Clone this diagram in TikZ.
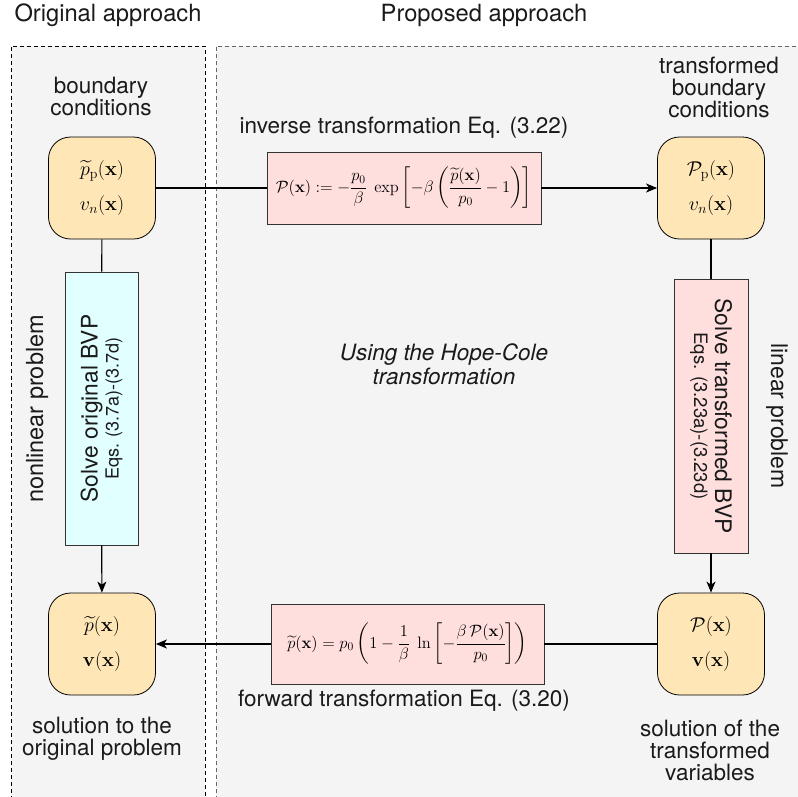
\RequirePackage{fix-cm}
\documentclass[tikz,border=0pt]{standalone}
\usepackage{amsmath}
\usepackage[no-math]{fontspec}
\setmainfont{TeX Gyre Heros}
\usetikzlibrary{arrows.meta}
\definecolor{panelbg}{HTML}{F4F4F4}
\definecolor{nodefill}{HTML}{FEE6B6}
\definecolor{cyanfill}{HTML}{E2FFFF}
\definecolor{pinkfill}{HTML}{FFDEDE}
\definecolor{txt}{HTML}{1A1A1A}
\begin{document}
\begin{tikzpicture}[x=1pt,y=-1pt,
  lbl/.style={font=\fontsize{22.5}{22}\selectfont, align=center, text=txt, inner sep=0pt},
  ttl/.style={lbl, font=\fontsize{23.7}{26}\selectfont},
  varbox/.style={draw=black, line width=0.8pt, fill=nodefill, rounded corners=22pt,
    minimum width=107pt, minimum height=102pt, inner sep=0pt, align=center,
    font=\fontsize{20}{35}\selectfont},
  eqbox/.style={draw=black!80, line width=0.8pt, fill=pinkfill, inner sep=0pt,
    font=\fontsize{16.5}{18}\selectfont},
  solvebox/.style={draw=black!80, line width=0.8pt, inner sep=0pt, align=center,
    font=\fontsize{22.8}{22}\selectfont, text=txt},
  conn/.style={line width=1.2pt, black},
  tip/.style={conn, -{Stealth[length=11pt,width=9pt,inset=3pt]}}
]
\useasboundingbox (0,0) rectangle (798,796);
% panels
\fill[panelbg] (11,46) rectangle (205,800);
\draw[black, line width=0.7pt, dash pattern=on 4pt off 3pt] (11,800) -- (11,46) -- (205,46) -- (205,800);
\fill[panelbg] (216,46) rectangle (800,800);
\draw[black!60, line width=0.7pt, dash pattern=on 4pt off 3pt] (216,800) -- (216,46) -- (800,46);

% titles
\node[ttl] (t1) at (108,15) {Original approach};
\node[ttl] (t2) at (484,15) {Proposed approach};

% variable boxes
\node[varbox] (bc) at (102,188) {$\widetilde{p}_{\mathrm{p}}(\mathbf{x})$\\$v_n(\mathbf{x})$};
\node[varbox] (tbc) at (711,188) {$\mathcal{P}_{\mathrm{p}}(\mathbf{x})$\\$v_n(\mathbf{x})$};
\node[varbox] (sol) at (102,644) {$\widetilde{p}(\mathbf{x})$\\$\mathbf{v}(\mathbf{x})$};
\node[varbox] (tsol) at (711,644) {$\mathcal{P}(\mathbf{x})$\\$\mathbf{v}(\mathbf{x})$};

% transformation boxes
\node[eqbox, minimum width=274pt, minimum height=72pt] (inv) at (404,188)
  {$\displaystyle \mathcal{P}(\mathbf{x}) := -\frac{p_0}{\beta}\;\exp\left[-\beta\left(\frac{\widetilde{p}(\mathbf{x})}{p_0}-1\right)\right]$};
\node[eqbox, minimum width=273pt, minimum height=80pt] (fwd) at (407.5,644)
  {$\displaystyle \widetilde{p}(\mathbf{x}) = p_0\left(1-\frac{1}{\beta}\;\ln\left[-\frac{\beta\,\mathcal{P}(\mathbf{x})}{p_0}\right]\right)$};

% solve boxes
\node[solvebox, fill=cyanfill, rotate=90, minimum width=273pt, minimum height=73pt] (solveo) at (101.5,408.5)
  {Solve original BVP\\[-1pt]{\fontsize{18}{18}\selectfont Eqs. (3.7a)-(3.7d)}};
\node[solvebox, fill=pinkfill, rotate=-90, minimum width=274pt, minimum height=74pt] (solvet) at (711,416)
  {Solve transformed BVP\\[-1pt]{\fontsize{18.5}{18}\selectfont Eqs. (3.23a)-(3.23d)}};

% labels
\node[lbl] (l1) at (101,96) {boundary\\conditions};
\node[lbl] (l2) at (719,87) {transformed\\boundary\\conditions};
\node[lbl] (l3) at (404,128) {inverse transformation Eq. (3.22)};
\node[lbl] (l4) at (404,701) {forward transformation Eq. (3.20)};
\node[lbl, font=\fontsize{22.5}{24}\selectfont\itshape] (l5) at (444,364) {Using the Hope-Cole\\transformation};
\node[lbl, rotate=90, font=\fontsize{23.5}{24}\selectfont] (l6) at (37,409) {nonlinear problem};
\node[lbl, rotate=-90, font=\fontsize{23}{24}\selectfont] (l7) at (777,416) {linear problem};
\node[lbl] (l8) at (102,739) {solution to the\\original problem};
\node[lbl] (l9) at (710,750) {solution of the\\transformed\\variables};

% connectors
\draw[conn] (bc) -- (inv);
\draw[tip] (inv) -- (tbc);
\draw[conn] (tbc) -- (solvet);
\draw[tip] (solvet) -- (tsol);
\draw[conn] (tsol) -- (fwd);
\draw[tip] (fwd) -- (sol);
\draw[conn] (bc) -- (solveo);
\draw[tip] (solveo) -- (sol);
\end{tikzpicture}
\end{document}
